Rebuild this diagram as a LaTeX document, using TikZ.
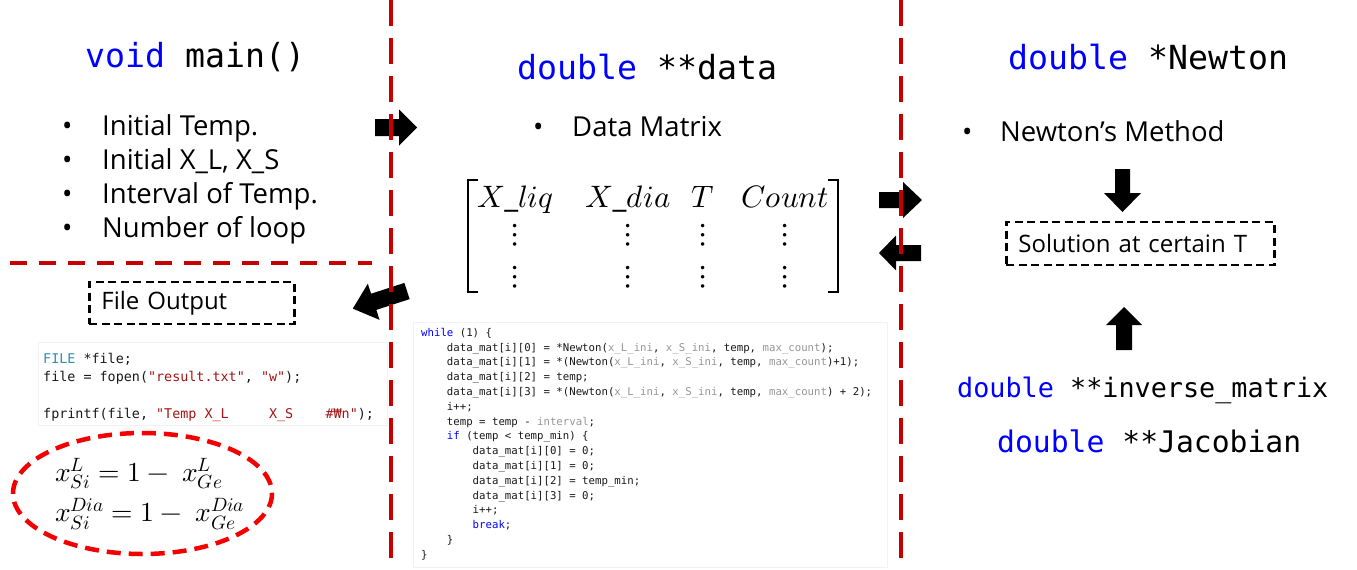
\documentclass[tikz,border=0pt]{standalone}
\usepackage{fontspec}
\usepackage{unicode-math}
\setmainfont{Open Sans}
\setmathfont{Latin Modern Math}
\newfontfamily\codefont{DejaVu Sans Mono}
\definecolor{kwblue}{RGB}{0,0,255}
\definecolor{dashred}{RGB}{198,0,0}
\definecolor{ellred}{RGB}{245,0,0}
\definecolor{ftype}{RGB}{43,145,175}
\definecolor{strred}{RGB}{163,21,21}
\definecolor{gvar}{RGB}{150,150,150}
\definecolor{codeink}{RGB}{25,25,25}
\newcommand{\ckw}[1]{\textcolor{kwblue}{#1}}
\newcommand{\cgv}[1]{\textcolor{gvar}{#1}}
\newcommand{\cstr}[1]{\textcolor{strred}{#1}}
\newcommand{\cind}{\phantom{0000}}
\newcommand{\barrow}[7]{\fill[black,shift={(#1,#2)},rotate=#3] (0,-#5/2) -- (#4-#7,-#5/2) -- (#4-#7,-#6/2) -- (#4,0) -- (#4-#7,#6/2) -- (#4-#7,#5/2) -- (0,#5/2) -- cycle;}
\tikzset{
  heading/.style={font=\codefont\fontsize{33.2}{36}\selectfont, anchor=west, inner sep=0},
  bodytext/.style={font=\fontsize{27.5}{33}\selectfont, anchor=base west, inner sep=0},
  boxtext/.style={font=\fontsize{24}{28}\selectfont},
  reddash/.style={draw=dashred, line width=4pt, dash pattern=on 26pt off 12pt},
  redhdash/.style={draw=dashred, line width=4pt, dash pattern=on 17pt off 12pt},
  ellipsedash/.style={draw=ellred, line width=4.5pt, dash pattern=on 14pt off 8pt},
  blackdash/.style={draw=black, line width=2.8pt, dash pattern=on 8pt off 4.5pt, inner ysep=0pt, inner xsep=12pt, align=left, anchor=west},
  mathentry/.style={font=\fontsize{31}{36}\selectfont, inner sep=0},
  dotsentry/.style={font=\fontsize{33}{36}\selectfont, inner sep=0},
  midcode/.style={font=\codefont\fontsize{10.7}{14.8}\selectfont, text=codeink, align=left, inner sep=0, anchor=north west},
  leftcode/.style={font=\codefont\fontsize{13.4}{18.3}\selectfont, text=codeink, align=left, inner sep=0, anchor=north west},
  faintbox/.style={draw=black!5, line width=0.8pt}
}
\begin{document}
\begin{tikzpicture}[x=1pt,y=-1pt]
\useasboundingbox (0,0) rectangle (1357,570);
\fill[white] (0,0) rectangle (1357,570);

% faint screenshot frames
\draw[faintbox] (38,342) rectangle (387,425);
\draw[faintbox] (413,322) rectangle (887,567);

% headings
\node[heading] (hmain) at (85,57) {\ckw{void} main()};
\node[heading] (hdata) at (517,67) {\ckw{double} **data};
\node[heading] (hnewton) at (1008,57) {\ckw{double} *Newton};
\node[heading, font=\codefont\fontsize{26.8}{30}\selectfont] (hinv) at (957,390) {\ckw{double} **inverse\_matrix};
\node[heading, font=\codefont\fontsize{29.7}{33}\selectfont] (hjac) at (997,441) {\ckw{double} **Jacobian};

% left bullet list
\node[bodytext] (b1) at (62,135) {•};
\node[bodytext] (t1) at (102,135) {Initial Temp.};
\node[bodytext] (b2) at (62,169) {•};
\node[bodytext] (t2) at (102,169) {Initial X\_L, X\_S};
\node[bodytext] (b3) at (62,203) {•};
\node[bodytext] (t3) at (102,203) {Interval of Temp.};
\node[bodytext] (b4) at (62,237) {•};
\node[bodytext] (t4) at (102,237) {Number of loop};

% middle list
\node[bodytext] (b5) at (533,136) {•};
\node[bodytext] (t5) at (572,136) {Data Matrix};

% right list
\node[bodytext] (b6) at (962,141) {•};
\node[bodytext] (t6) at (1000,141) {Newton’s Method};

% matrix
\node[mathentry, anchor=base] (m1) at (515,207) {$X\_liq$};
\node[mathentry, anchor=base] (m2) at (628,207) {$X\_dia$};
\node[mathentry, anchor=base] (m3) at (703,207) {$T$};
\node[mathentry, anchor=base] (m4) at (785,207) {$Count$};
\foreach \cx [count=\k] in {515,628,703,785}{
  \node[dotsentry] (d1\k) at (\cx,235) {$\vdots$};
  \node[dotsentry] (d2\k) at (\cx,277) {$\vdots$};
}
\draw[line width=2.5pt] (478,180) -- (468,180) -- (468,292) -- (478,292);
\draw[line width=2.5pt] (828,180) -- (838,180) -- (838,292) -- (828,292);

% dashed boxes
\node[blackdash, boxtext, text width=181pt, minimum height=42pt] (fout) at (88,303) {File Output};
\node[blackdash, boxtext, text width=244pt, minimum height=43pt] (sol) at (1005,243.5) {Solution at certain T};

% left code
\node[leftcode] (fcode) at (43,353) {\textcolor{ftype}{FILE} *file;\\
file = fopen(\cstr{"result.txt"}, \cstr{"w"});\\
\mbox{}\\
fprintf(file, \cstr{"Temp X\_L~~~~~X\_S~~~~\#₩n"});};

% middle code
\node[midcode] (loop) at (421,328) {\ckw{while} (1) \{\\
\cind data\_mat[i][0] = *Newton(\cgv{x\_L\_ini}, \cgv{x\_S\_ini}, temp, \cgv{max\_count});\\
\cind data\_mat[i][1] = *(Newton(\cgv{x\_L\_ini}, \cgv{x\_S\_ini}, temp, \cgv{max\_count})+1);\\
\cind data\_mat[i][2] = temp;\\
\cind data\_mat[i][3] = *(Newton(\cgv{x\_L\_ini}, \cgv{x\_S\_ini}, temp, \cgv{max\_count}) + 2);\\
\cind i++;\\
\cind temp = temp - \cgv{interval};\\
\cind \ckw{if} (temp < temp\_min) \{\\
\cind\cind data\_mat[i][0] = 0;\\
\cind\cind data\_mat[i][1] = 0;\\
\cind\cind data\_mat[i][2] = temp\_min;\\
\cind\cind data\_mat[i][3] = 0;\\
\cind\cind i++;\\
\cind\cind \ckw{break};\\
\cind \}\\
\}};

% equations
\node[mathentry, font=\fontsize{27.5}{32}\selectfont, anchor=base west] (eq1) at (55,481) {$x_{Si}^{L} = 1 -\ x_{Ge}^{L}$};
\node[mathentry, font=\fontsize{27.5}{32}\selectfont, anchor=base west] (eq2) at (55,521) {$x_{Si}^{Dia} = 1 -\ x_{Ge}^{Dia}$};

% block arrows
\barrow{375}{127.5}{0}{42}{17}{36}{18}
\barrow{879}{200}{0}{43}{16}{36}{19}
\barrow{921}{253}{180}{42}{16}{35}{17}
\barrow{1122.5}{169}{-90}{43}{15}{37}{19}
\barrow{1124}{350}{90}{43}{16}{36}{18}
\barrow{407}{291}{198}{57}{17}{38}{22}

% red dashed separators
\draw[reddash] (391,0) -- (391,570);
\draw[reddash] (901,0) -- (901,570);
\draw[redhdash] (10,263) -- (372,263);
\draw[ellipsedash] (142.5,493.5) ellipse [x radius=129.5, y radius=60.5];
\end{tikzpicture}
\end{document}
